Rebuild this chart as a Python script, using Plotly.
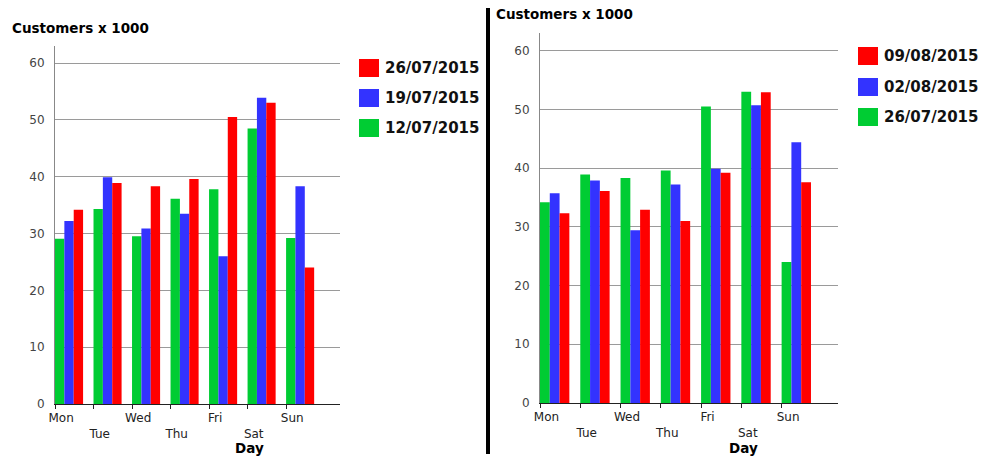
import plotly.graph_objects as go

# ── Data ─────────────────────────────────────────────────────
days = ["Mon", "Tue", "Wed", "Thu", "Fri", "Sat", "Sun"]

wk_12_07 = [29.1, 34.3, 29.5, 36.1, 37.8, 48.5, 29.2]
wk_19_07 = [32.2, 39.9, 30.9, 33.5, 26.0, 53.9, 38.3]
wk_26_07 = [34.2, 38.9, 38.3, 39.6, 50.5, 53.0, 24.0]
wk_02_08 = [35.7, 37.9, 29.4, 37.2, 39.9, 50.7, 44.4]
wk_09_08 = [32.3, 36.1, 32.9, 31.0, 39.2, 52.9, 37.6]

left_names = ["12/07/2015", "19/07/2015", "26/07/2015"]
left_series = [wk_12_07, wk_19_07, wk_26_07]
right_names = ["26/07/2015", "02/08/2015", "09/08/2015"]
right_series = [wk_26_07, wk_02_08, wk_09_08]

y_ticks = [0, 10, 20, 30, 40, 50, 60]

colors = ["#00CC33", "#3333FF", "#FF0000"]

W, H = 988, 459
FONT = "DejaVu Sans"
BAR_W = 0.243

xs = list(range(len(days)))
tick_text = [d if i % 2 == 0 else "<br>" + d for i, d in enumerate(days)]


def px(x):
    return x / W


def py(y):
    return 1 - y / H


fig = go.Figure()
shapes = []
annotations = []


def build_panel(n, series, names, xdom, ydom, title_xy, legend_x, legend_rows):
    xa = "x" if n == 1 else "x%d" % n
    ya = "y" if n == 1 else "y%d" % n

    for k, (vals, name) in enumerate(zip(series, names)):
        fig.add_trace(go.Bar(
            x=xs, y=vals, name=name,
            offset=k * BAR_W, width=BAR_W,
            marker=dict(color=colors[k], line=dict(width=0)),
            xaxis=xa, yaxis=ya, showlegend=False,
        ))

    axis_key = "xaxis" if n == 1 else "xaxis%d" % n
    yaxis_key = "yaxis" if n == 1 else "yaxis%d" % n
    fig.layout[axis_key] = dict(
        domain=xdom, anchor=ya, range=[0, 7.4], automargin=False,
        tickmode="array", tickvals=[i + 0.16 for i in xs], ticktext=tick_text,
        ticks="", showgrid=False, zeroline=False, ticklabelstandoff=3,
        showline=True, linecolor="#222", linewidth=1,
        tickfont=dict(family=FONT, size=12, color="#222"),
        minor=dict(tickmode="array", tickvals=xs, ticks="outside",
                   ticklen=4, tickcolor="#222", showgrid=False),
        fixedrange=True,
    )
    fig.layout[yaxis_key] = dict(
        domain=ydom, anchor=xa, range=[0, 63], automargin=False,
        tickmode="array", tickvals=y_ticks,
        showgrid=True, gridcolor="#9a9a9a", gridwidth=1, zeroline=False,
        showline=True, linecolor="#888", linewidth=1,
        ticks="", ticklabelstandoff=7,
        tickfont=dict(family=FONT, size=12, color="#444"),
        fixedrange=True,
    )

    # y title on top
    annotations.append(dict(
        text="Customers x 1000", xref="paper", yref="paper",
        x=px(title_xy[0]), y=py(title_xy[1]), xanchor="left", yanchor="middle",
        showarrow=False, font=dict(family=FONT, size=13.5, color="black", weight="bold"),
    ))
    # x title
    annotations.append(dict(
        text="Day", xref=xa, yref="paper", x=5.05, y=py(448),
        xanchor="center", yanchor="middle", showarrow=False,
        font=dict(family=FONT, size=13.5, color="black", weight="bold"),
    ))

    # legend (newest on top)
    for k in range(len(names) - 1, -1, -1):
        row = legend_rows[len(names) - 1 - k]
        shapes.append(dict(
            type="rect", xref="paper", yref="paper",
            x0=px(legend_x), x1=px(legend_x + 20),
            y0=py(row + 9), y1=py(row - 9),
            fillcolor=colors[k], line=dict(width=0),
        ))
        annotations.append(dict(
            text=names[k], xref="paper", yref="paper",
            x=px(legend_x + 24), y=py(row), xanchor="left", yanchor="middle",
            showarrow=False, font=dict(family=FONT, size=15, color="#111", weight="bold"),
        ))


build_panel(1, left_series, left_names,
            [px(55), px(340)], [py(404), py(46)],
            (10, 28), 359, [68, 98, 128])
build_panel(2, right_series, right_names,
            [px(540), px(838)], [py(403), py(33)],
            (494, 14), 858, [56, 87, 117])

# black separator between the two charts
shapes.append(dict(
    type="line", xref="paper", yref="paper",
    x0=px(488), x1=px(488), y0=py(8), y1=py(454),
    line=dict(color="black", width=4),
))

fig.update_layout(
    width=W, height=H,
    margin=dict(l=0, r=0, t=0, b=0, autoexpand=False),
    paper_bgcolor="white", plot_bgcolor="white",
    barmode="overlay", showlegend=False,
    shapes=shapes, annotations=annotations,
    font=dict(family=FONT),
)

fig.write_html(
    "out.html",
    config={"displayModeBar": False},
    post_script="document.body.style.margin='0px';",
)
